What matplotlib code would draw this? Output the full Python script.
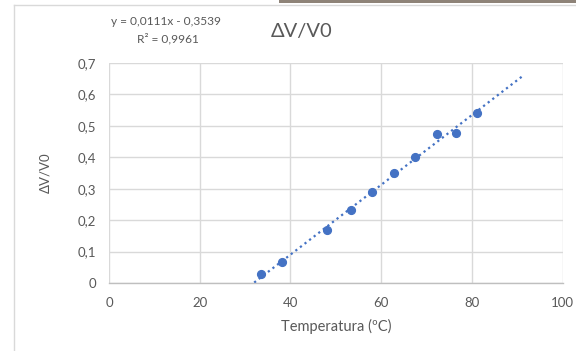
import matplotlib
matplotlib.use("Agg")
import matplotlib.pyplot as plt
from matplotlib.lines import Line2D
from matplotlib.patches import Rectangle
import numpy as np

# Data
temperatura = [33.5, 38.1, 48.0, 53.3, 58.1, 62.8, 67.4, 72.4, 76.5, 81.2]
dv_v0 = [0.029, 0.066, 0.168, 0.233, 0.290, 0.351, 0.400, 0.473, 0.478, 0.542]
slope = 0.0111
intercept = -0.3539
r2 = 0.9961
trend_range = [30.0, 91.4]
x_ticks = [0, 20, 40, 60, 80, 100]
x_tick_labels = ["0", "20", "40", "60", "80", "100"]
y_ticks = [0, 0.1, 0.2, 0.3, 0.4, 0.5, 0.6, 0.7]
y_tick_labels = ["0", "0,1", "0,2", "0,3", "0,4", "0,5", "0,6", "0,7"]

plt.rcParams['font.family'] = ['Lato', 'DejaVu Sans']
W, H = 576, 351
fig = plt.figure(figsize=(W / 100, H / 100), dpi=100)

def fx(px):
    return px / W

def fy(py):
    return 1 - py / H

ax = fig.add_axes([fx(109), fy(283), fx(562.5) - fx(109), fy(63) - fy(283)])

blue = "#4472C4"
gray_txt = "#595959"
grid_c = "#D9D9D9"

tx = np.array(trend_range)
ty = slope * tx + intercept
ax.plot(tx, ty, linestyle=(0, (1, 1.6)), color=blue, linewidth=1.6, zorder=3)
ax.plot(temperatura, dv_v0, 'o', color=blue, markersize=5.6, zorder=4)

ax.set_xlim(0, 100)
ax.set_ylim(0, 0.7)
ax.set_xticks(x_ticks)
ax.set_xticklabels(x_tick_labels)
ax.set_yticks(y_ticks)
ax.set_yticklabels(y_tick_labels)
ax.grid(True, color=grid_c, linewidth=1.0, zorder=0)
ax.set_axisbelow(True)
for s in ['top', 'right', 'left']:
    ax.spines[s].set_visible(False)
ax.spines['bottom'].set_color("#BFBFBF")
ax.spines['bottom'].set_linewidth(1.0)
ax.spines['bottom'].set_zorder(2)
ax.tick_params(axis='both', length=0, labelsize=9.5, colors=gray_txt)
ax.tick_params(axis='x', pad=10)
ax.tick_params(axis='y', pad=9)

fig.text(fx(302), fy(31), "ΔV/V0", ha='center', va='center', fontsize=14.5, color=gray_txt)
fig.text(fx(166), fy(21.5), f"y = {slope:.4f}x - {abs(intercept):.4f}".replace('.', ','),
         ha='center', va='center', fontsize=8.6, color=gray_txt)
fig.text(fx(168), fy(39), f"R² = {r2:.4f}".replace('.', ','),
         ha='center', va='center', fontsize=8.6, color=gray_txt)
fig.text(fx(336), fy(326), "Temperatura (ºC)", ha='center', va='center', fontsize=10.5, color=gray_txt)
fig.text(fx(45), fy(173), "ΔV/V0", ha='center', va='center', rotation=90, fontsize=9.5, color=gray_txt)

# chart frame and the strip at top right
fig.add_artist(Line2D([fx(14), fx(14)], [fy(4.7), 0], color="#D9D9D9", linewidth=1.0))
fig.add_artist(Line2D([fx(14), 1], [fy(4.7), fy(4.7)], color="#D9D9D9", linewidth=1.0))
fig.add_artist(Rectangle((fx(279), fy(3.2)), 1 - fx(279), fy(0) - fy(3.2),
                         transform=fig.transFigure, color="#8E8378", linewidth=0))

fig.savefig("out.png", dpi=100)
